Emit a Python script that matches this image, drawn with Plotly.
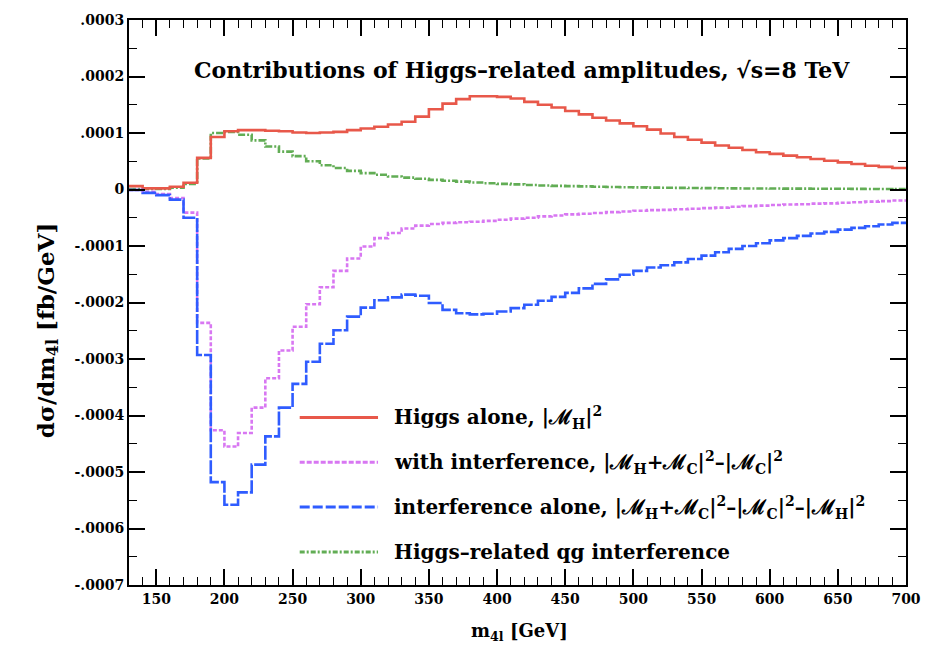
import numpy as np
import plotly.graph_objects as go

# ---------------- data (bin lower edges, GeV; values in units of 1e-4 fb/GeV) ----------------
bin_low = list(range(130, 700, 10))
bin_width = 10

higgs_alone = [0.06, 0.02, 0.02, 0.05, 0.12, 0.56, 0.93, 1.03, 1.05, 1.05,
               1.04, 1.03, 1.01, 1.00, 1.01, 1.02, 1.05, 1.08, 1.11, 1.15,
               1.20, 1.29, 1.42, 1.52, 1.60, 1.65, 1.65, 1.64, 1.61, 1.55,
               1.50, 1.45, 1.39, 1.33, 1.27, 1.22, 1.17, 1.12, 1.06, 0.99,
               0.93, 0.88, 0.83, 0.78, 0.74, 0.70, 0.66, 0.63, 0.60, 0.57,
               0.54, 0.51, 0.48, 0.45, 0.42, 0.40, 0.38]

with_interf = [-0.01, -0.04, -0.08, -0.15, -0.41, -2.36, -4.26, -4.55, -4.31, -3.86,
               -3.34, -2.85, -2.43, -2.03, -1.73, -1.44, -1.22, -1.01, -0.86, -0.77,
               -0.69, -0.64, -0.61, -0.59, -0.58, -0.57, -0.555, -0.535, -0.515, -0.50,
               -0.475, -0.46, -0.44, -0.43, -0.415, -0.40, -0.39, -0.375, -0.365, -0.36,
               -0.35, -0.34, -0.33, -0.32, -0.305, -0.295, -0.285, -0.275, -0.265, -0.26,
               -0.25, -0.245, -0.235, -0.225, -0.215, -0.205, -0.195]

interf_alone = [-0.01, -0.06, -0.10, -0.18, -0.50, -2.93, -5.18, -5.58, -5.36, -4.87,
                -4.37, -3.86, -3.44, -3.05, -2.73, -2.49, -2.25, -2.09, -1.96, -1.91,
                -1.86, -1.88, -2.01, -2.13, -2.19, -2.21, -2.20, -2.16, -2.10, -2.04,
                -1.97, -1.90, -1.83, -1.75, -1.67, -1.59, -1.51, -1.44, -1.38, -1.34,
                -1.29, -1.23, -1.17, -1.11, -1.05, -1.00, -0.95, -0.90, -0.86, -0.82,
                -0.78, -0.75, -0.71, -0.68, -0.65, -0.62, -0.59]

qg_interf = [0.01, 0.01, 0.01, 0.03, 0.10, 0.55, 1.00, 1.02, 0.97, 0.87,
             0.76, 0.67, 0.59, 0.50, 0.43, 0.38, 0.33, 0.29, 0.26, 0.23,
             0.21, 0.19, 0.17, 0.155, 0.14, 0.125, 0.11, 0.10, 0.09, 0.08,
             0.07, 0.065, 0.06, 0.055, 0.05, 0.045, 0.04, 0.037, 0.034, 0.031,
             0.028, 0.026, 0.024, 0.022, 0.020, 0.019, 0.018, 0.017, 0.016, 0.015,
             0.014, 0.013, 0.012, 0.011, 0.010, 0.009, 0.008]

scale = 1e-4

y_tickvals = [0.0003, 0.0002, 0.0001, 0.0, -0.0001, -0.0002, -0.0003, -0.0004, -0.0005, -0.0006, -0.0007]
y_ticktext = [".0003", ".0002", ".0001", "0", "-.0001", "-.0002", "-.0003", "-.0004", "-.0005", "-.0006", "-.0007"]

series_names = [
    "Higgs alone, |ℳ<sub>H</sub>|<sup>2</sup>",
    "with interference, |ℳ<sub>H</sub>+ℳ<sub>C</sub>|<sup>2</sup>–|ℳ<sub>C</sub>|<sup>2</sup>",
    "interference alone, |ℳ<sub>H</sub>+ℳ<sub>C</sub>|<sup>2</sup>–|ℳ<sub>C</sub>|<sup>2</sup>–|ℳ<sub>H</sub>|<sup>2</sup>",
    "Higgs–related qg interference",
]
series_colors = ["#e8584a", "#d877f2", "#2f5cff", "#62ad55"]
series_dash = ["solid", "4px,2px", "14px,2px", "7px,2px,2px,2px"]

FONT = "DejaVu Serif"

# ---------------- figure ----------------
fig = go.Figure()
edges = bin_low + [bin_low[-1] + bin_width]
all_series = [higgs_alone, with_interf, interf_alone, qg_interf]
# draw order: green, red, magenta, blue on top
for idx in [3, 0, 1, 2]:
    vals = [v * scale for v in all_series[idx]]
    fig.add_trace(go.Scatter(
        x=edges, y=vals + [vals[-1]], mode="lines", line_shape="hv",
        line=dict(color=series_colors[idx], width=2.6, dash=series_dash[idx]),
        name=series_names[idx], showlegend=False, hoverinfo="skip",
    ))

# legend drawn as samples + labels (lower right inside plot)
leg_y = [0.2963, 0.2171, 0.1379, 0.0586]
leg_dash = ["solid", "5px,2px", "10px,3px", "5px,2px,2px,2px"]
for i in range(4):
    fig.add_shape(type="line", xref="paper", yref="paper",
                  x0=0.2197, x1=0.3205, y0=leg_y[i], y1=leg_y[i],
                  line=dict(color=series_colors[i], width=3, dash=leg_dash[i]))
    fig.add_annotation(xref="paper", yref="paper", x=0.338, y=leg_y[i],
                       xanchor="left", yanchor="middle", showarrow=False,
                       text=series_names[i],
                       font=dict(family=FONT, size=20, color="black", weight="bold"))

fig.add_annotation(xref="paper", yref="paper", x=0.506, y=0.912,
                   xanchor="center", yanchor="middle", showarrow=False,
                   text="Contributions of Higgs–related amplitudes, √s=8 TeV",
                   font=dict(family=FONT, size=22, color="black", weight="bold"))

fig.add_annotation(xref="paper", yref="paper", x=-0.105, y=0.45,
                   xanchor="center", yanchor="middle", showarrow=False, textangle=-90,
                   text="dσ/dm<sub>4l</sub> [fb/GeV]",
                   font=dict(family=FONT, size=23, color="black", weight="bold"))

fig.add_annotation(xref="paper", yref="paper", x=0.503, y=-0.083,
                   xanchor="center", yanchor="middle", showarrow=False,
                   text="m<sub>4l</sub> [GeV]",
                   font=dict(family=FONT, size=18, color="black", weight="bold"))

fig.update_layout(
    width=936, height=646,
    margin=dict(l=129, r=30, t=17, b=61),
    paper_bgcolor="white", plot_bgcolor="white",
    showlegend=False,
    xaxis=dict(range=[130, 700], tick0=150, dtick=50, ticks="inside", ticklen=16, tickwidth=1.5,
               tickcolor="black", showline=True, linecolor="black", linewidth=2, mirror="ticks",
               showgrid=False, zeroline=False,
               minor=dict(ticks="inside", ticklen=8, dtick=10, tickcolor="black", tickwidth=1.2, showgrid=False),
               tickfont=dict(family=FONT, size=14, color="black", weight="bold")),
    yaxis=dict(range=[-0.0007, 0.0003], tickvals=y_tickvals, ticktext=y_ticktext,
               ticks="inside", ticklen=16, tickwidth=1.5, tickcolor="black",
               showline=True, linecolor="black", linewidth=2, mirror="ticks",
               showgrid=False, zeroline=False,
               minor=dict(ticks="inside", ticklen=8, dtick=0.00005, tickcolor="black", tickwidth=1.2, showgrid=False),
               tickfont=dict(family=FONT, size=14, color="black", weight="bold")),
)

fig.write_html("out.html")
